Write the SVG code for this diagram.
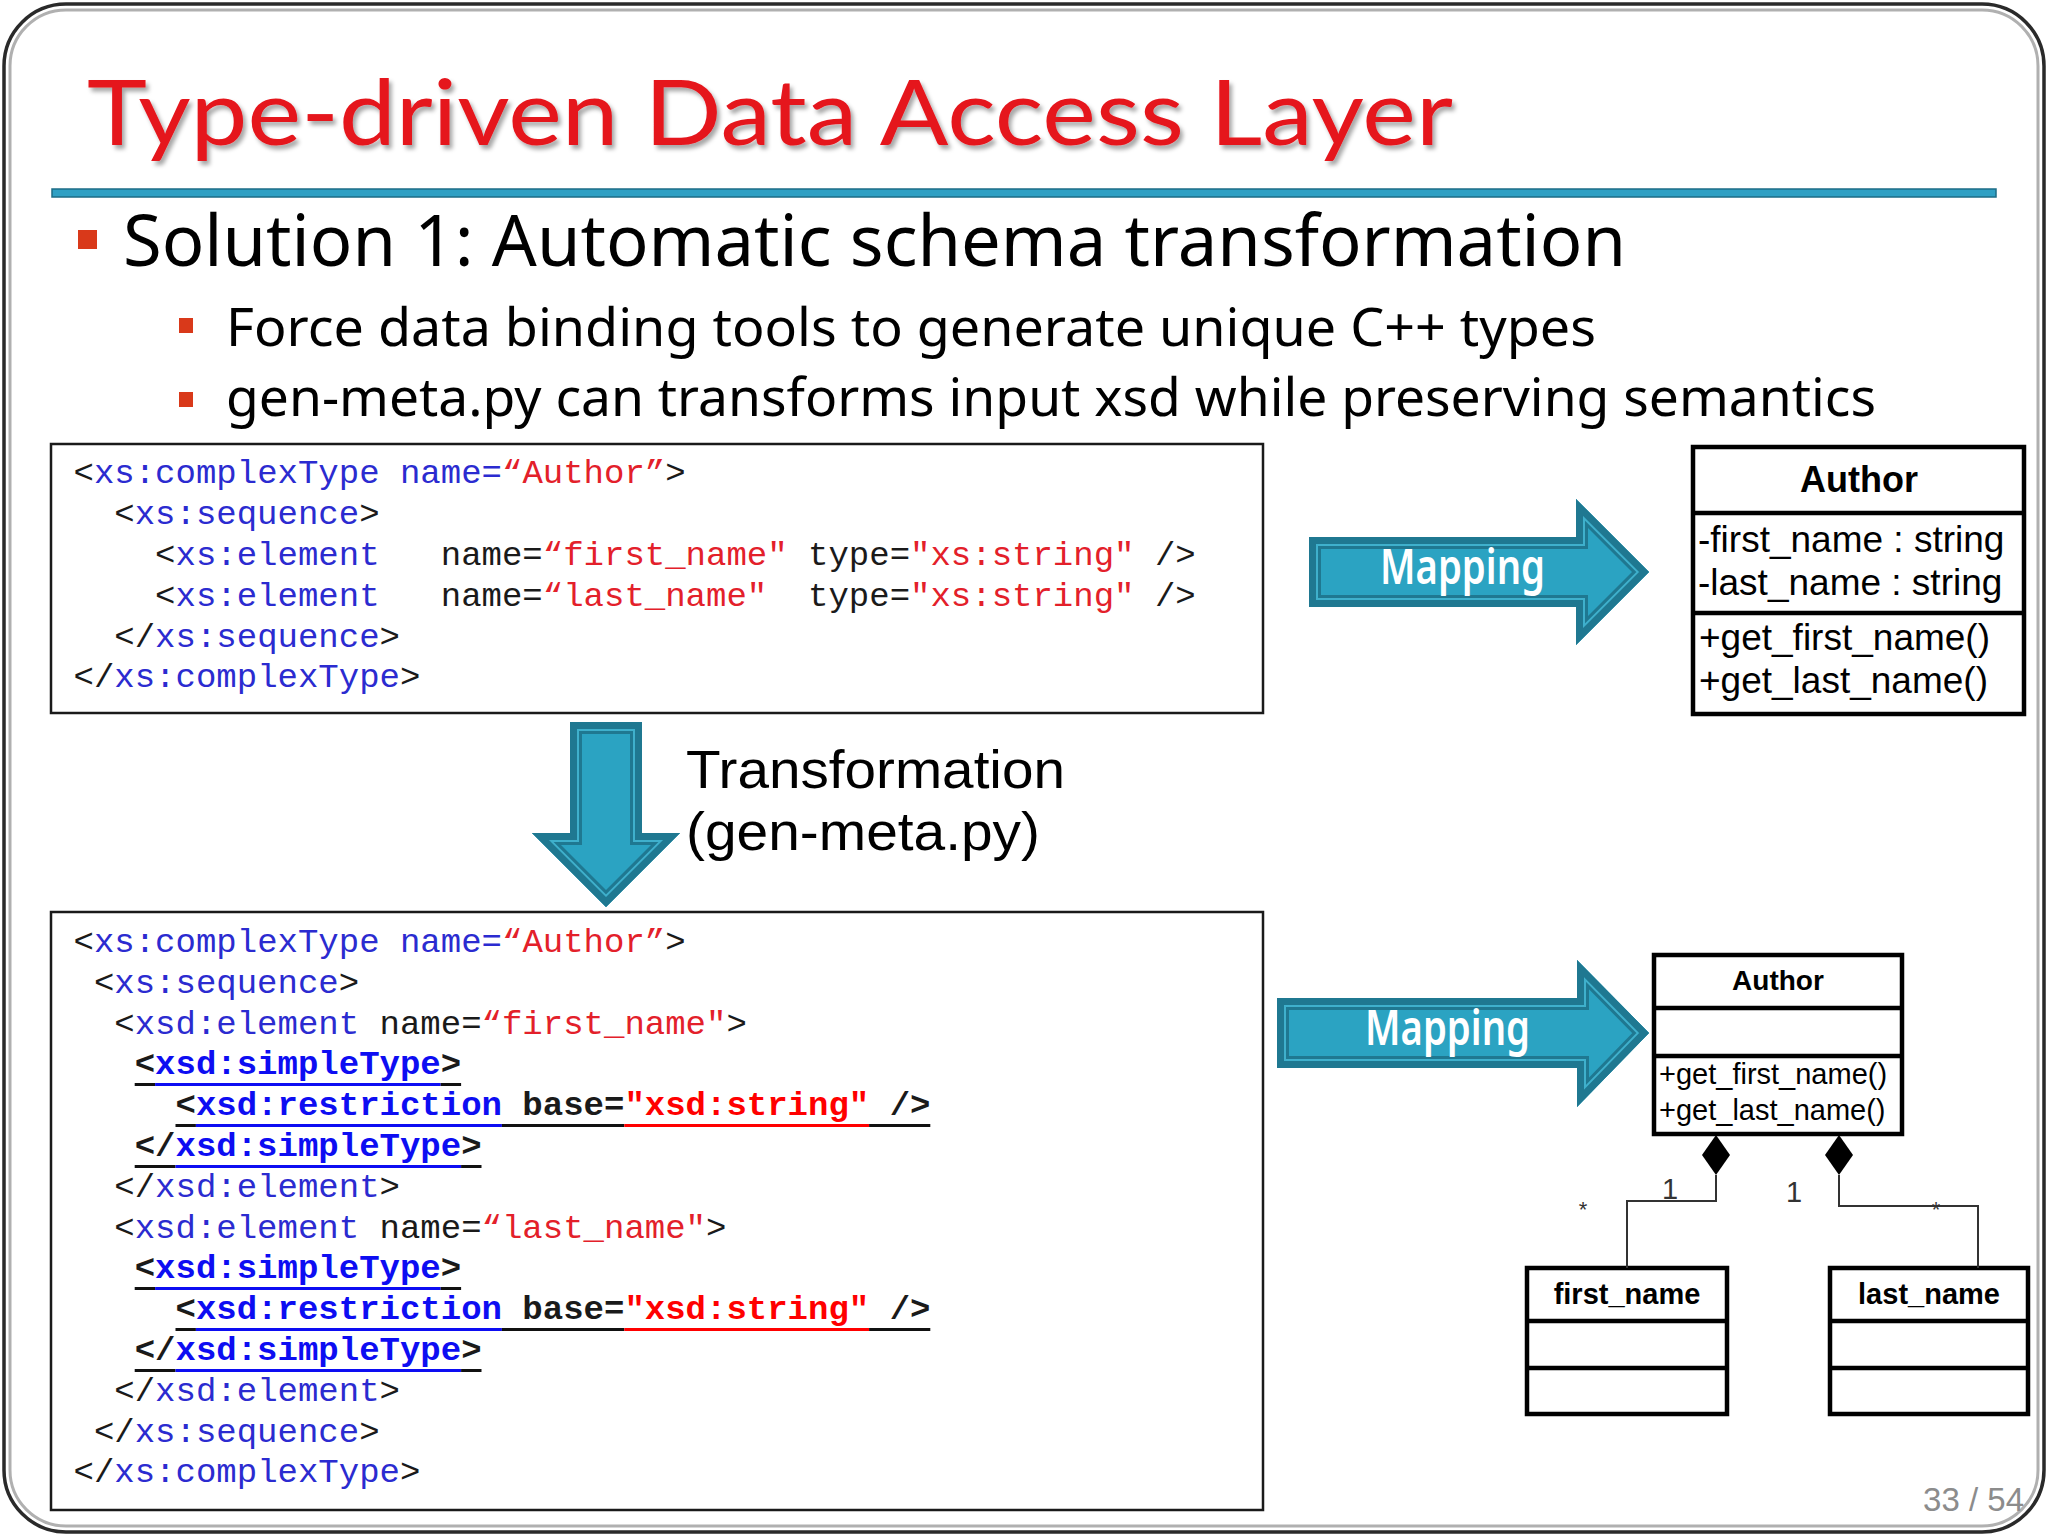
<svg xmlns="http://www.w3.org/2000/svg" width="2048" height="1536" viewBox="0 0 2048 1536">
<style>
.title{font-family:Lato,"Open Sans",sans-serif;font-size:92px;font-weight:400;fill:#e5141c}
.b1{font-family:"Noto Sans","Open Sans",sans-serif;font-size:72px;fill:#000}
.b2{font-family:"Noto Sans","Open Sans",sans-serif;font-size:53px;fill:#000}
.tr{font-family:"Liberation Sans",Arial,sans-serif;font-size:53px;fill:#000}
.bul{fill:#d9391a}
.box{fill:#fff;stroke:#1a1a1a;stroke-width:2.5}
.code{font-family:"Liberation Mono","Courier New",monospace;font-size:34px;fill:#1a1a1a}
.bold{font-weight:bold}
.k{fill:#2b2bd0}
.s{fill:#e3202a}
.kb{fill:#0d0df2}
.sb{fill:#ff0000}
.map{font-family:"Noto Sans","Open Sans",sans-serif;font-size:48px;fill:#fff;font-weight:600}
.umlbox{fill:#fff;stroke:#000;stroke-width:4.5}
.umlline{stroke:#000;stroke-width:4.5}
.uml{font-family:"Liberation Sans",Arial,sans-serif;fill:#000}
.conn{fill:none;stroke:#333;stroke-width:2}
.lbl{font-family:"Liberation Sans",Arial,sans-serif;fill:#333}
.ulk{fill:#111}
.ulb{fill:#0d0df2}
.ulr{fill:#ff0000}
</style>
<defs>
<filter id="tshadow" x="-5%" y="-20%" width="110%" height="150%">
<feDropShadow dx="3" dy="4" stdDeviation="2" flood-color="#000" flood-opacity="0.35"/>
</filter>
<polygon id="a1" points="1309,537 1576,537 1576,499 1649,572 1576,645 1576,607 1309,607"/>
<polygon id="a2" points="1277,998 1577,998 1577,960 1649,1033 1577,1107 1577,1068 1277,1068"/>
<polygon id="a3" points="570,722 642,722 642,833 680,833 606,907 532,833 570,833"/>
<clipPath id="c1"><use href="#a1"/></clipPath>
<clipPath id="c2"><use href="#a2"/></clipPath>
<clipPath id="c3"><use href="#a3"/></clipPath>
</defs>
<rect width="2048" height="1536" fill="#fff"/>
<g id="frame">
<rect x="4" y="4" width="2040" height="1528" rx="62" fill="none" stroke="#2a2a2a" stroke-width="3.5"/>
<rect x="10" y="10" width="2028" height="1516" rx="56" fill="none" stroke="#b0b0b0" stroke-width="3"/>
</g>
<g id="title">
<text class="title" x="87" y="145" textLength="1366" lengthAdjust="spacingAndGlyphs" filter="url(#tshadow)">Type-driven Data Access Layer</text>
<rect x="52" y="189" width="1944" height="8" fill="#2fa0c4" stroke="#1d6c86" stroke-width="1.5"/>
</g>
<g id="bullets">
<rect class="bul" x="78" y="230" width="19" height="19"/>
<text class="b1" x="123" y="266" textLength="1503" lengthAdjust="spacingAndGlyphs">Solution 1: Automatic schema transformation</text>
<rect class="bul" x="179" y="318" width="14" height="15"/>
<text class="b2" x="226" y="346" textLength="1370" lengthAdjust="spacingAndGlyphs">Force data binding tools to generate unique C++ types</text>
<rect class="bul" x="179" y="392" width="14" height="15"/>
<text class="b2" x="226" y="416" textLength="1650" lengthAdjust="spacingAndGlyphs">gen-meta.py can transforms input xsd while preserving semantics</text>
</g>
<g id="code-box-1">
<rect class="box" x="51" y="444" width="1212" height="269"/>
<text class="code" xml:space="preserve" x="73.5" y="483">&lt;<tspan class="k">xs:complexType name=</tspan><tspan class="s">“Author”</tspan>&gt;</text>
<text class="code" xml:space="preserve" x="114.3" y="524">&lt;<tspan class="k">xs:sequence</tspan>&gt;</text>
<text class="code" xml:space="preserve" x="155.1" y="565">&lt;<tspan class="k">xs:element</tspan>   name=<tspan class="s">“first_name"</tspan> type=<tspan class="s">"xs:string"</tspan> /&gt;</text>
<text class="code" xml:space="preserve" x="155.1" y="606">&lt;<tspan class="k">xs:element</tspan>   name=<tspan class="s">“last_name"</tspan>  type=<tspan class="s">"xs:string"</tspan> /&gt;</text>
<text class="code" xml:space="preserve" x="114.3" y="647">&lt;/<tspan class="k">xs:sequence</tspan>&gt;</text>
<text class="code" xml:space="preserve" x="73.5" y="687">&lt;/<tspan class="k">xs:complexType</tspan>&gt;</text>
</g>
<g id="code-box-2">
<rect class="box" x="51" y="912" width="1212" height="598"/>
<text class="code" xml:space="preserve" x="73.5" y="952">&lt;<tspan class="k">xs:complexType name=</tspan><tspan class="s">“Author”</tspan>&gt;</text>
<text class="code" xml:space="preserve" x="93.9" y="992.8">&lt;<tspan class="k">xs:sequence</tspan>&gt;</text>
<text class="code" xml:space="preserve" x="114.3" y="1033.6">&lt;<tspan class="k">xsd:element</tspan> name=<tspan class="s">“first_name"</tspan>&gt;</text>
<text class="code bold" xml:space="preserve" x="134.7" y="1074.4">&lt;<tspan class="kb">xsd:simpleType</tspan>&gt;</text>
<text class="code bold" xml:space="preserve" x="175.5" y="1115.2">&lt;<tspan class="kb">xsd:restriction</tspan> base=<tspan class="sb">"xsd:string"</tspan> /&gt;</text>
<text class="code bold" xml:space="preserve" x="134.7" y="1156">&lt;/<tspan class="kb">xsd:simpleType</tspan>&gt;</text>
<text class="code" xml:space="preserve" x="114.3" y="1196.8">&lt;/<tspan class="k">xsd:element</tspan>&gt;</text>
<text class="code" xml:space="preserve" x="114.3" y="1237.6">&lt;<tspan class="k">xsd:element</tspan> name=<tspan class="s">“last_name"</tspan>&gt;</text>
<text class="code bold" xml:space="preserve" x="134.7" y="1278.4">&lt;<tspan class="kb">xsd:simpleType</tspan>&gt;</text>
<text class="code bold" xml:space="preserve" x="175.5" y="1319.2">&lt;<tspan class="kb">xsd:restriction</tspan> base=<tspan class="sb">"xsd:string"</tspan> /&gt;</text>
<text class="code bold" xml:space="preserve" x="134.7" y="1360">&lt;/<tspan class="kb">xsd:simpleType</tspan>&gt;</text>
<text class="code" xml:space="preserve" x="114.3" y="1400.8">&lt;/<tspan class="k">xsd:element</tspan>&gt;</text>
<text class="code" xml:space="preserve" x="93.9" y="1441.6">&lt;/<tspan class="k">xs:sequence</tspan>&gt;</text>
<text class="code" xml:space="preserve" x="73.5" y="1482.4">&lt;/<tspan class="k">xs:complexType</tspan>&gt;</text>
<g id="underlines">
<rect class="ulk" x="134.7" y="1083" width="20.4" height="3"/><rect class="ulb" x="155.1" y="1083" width="285.6" height="3"/><rect class="ulk" x="440.7" y="1083" width="20.4" height="3"/>
<rect class="ulk" x="175.5" y="1124" width="20.4" height="3"/><rect class="ulb" x="195.9" y="1124" width="306" height="3"/><rect class="ulk" x="501.9" y="1124" width="122.4" height="3"/><rect class="ulr" x="624.3" y="1124" width="244.8" height="3"/><rect class="ulk" x="869.1" y="1124" width="61.2" height="3"/>
<rect class="ulk" x="134.7" y="1165" width="40.8" height="3"/><rect class="ulb" x="175.5" y="1165" width="285.6" height="3"/><rect class="ulk" x="461.1" y="1165" width="20.4" height="3"/>
<rect class="ulk" x="134.7" y="1287" width="20.4" height="3"/><rect class="ulb" x="155.1" y="1287" width="285.6" height="3"/><rect class="ulk" x="440.7" y="1287" width="20.4" height="3"/>
<rect class="ulk" x="175.5" y="1328" width="20.4" height="3"/><rect class="ulb" x="195.9" y="1328" width="306" height="3"/><rect class="ulk" x="501.9" y="1328" width="122.4" height="3"/><rect class="ulr" x="624.3" y="1328" width="244.8" height="3"/><rect class="ulk" x="869.1" y="1328" width="61.2" height="3"/>
<rect class="ulk" x="134.7" y="1369" width="40.8" height="3"/><rect class="ulb" x="175.5" y="1369" width="285.6" height="3"/><rect class="ulk" x="461.1" y="1369" width="20.4" height="3"/>
</g>
</g>
<g id="arrow-transformation">
<g clip-path="url(#c3)">
<use href="#a3" fill="#2ba3c2"/>
<use href="#a3" fill="none" stroke="#1f7891" stroke-width="24"/>
<use href="#a3" fill="none" stroke="#3fb0cc" stroke-width="18"/>
<use href="#a3" fill="none" stroke="#1f7891" stroke-width="14"/>
</g>
<text class="tr" x="686" y="788" textLength="379" lengthAdjust="spacingAndGlyphs">Transformation</text>
<text class="tr" x="686" y="850" textLength="354" lengthAdjust="spacingAndGlyphs">(gen-meta.py)</text>
</g>
<g id="mapping-1">
<g clip-path="url(#c1)">
<use href="#a1" fill="#2ba3c2"/>
<use href="#a1" fill="none" stroke="#1f7891" stroke-width="24"/>
<use href="#a1" fill="none" stroke="#3fb0cc" stroke-width="18"/>
<use href="#a1" fill="none" stroke="#1f7891" stroke-width="14"/>
</g>
<text class="map" x="1380" y="584" textLength="165" lengthAdjust="spacingAndGlyphs">Mapping</text>
</g>
<g id="mapping-2">
<g clip-path="url(#c2)">
<use href="#a2" fill="#2ba3c2"/>
<use href="#a2" fill="none" stroke="#1f7891" stroke-width="24"/>
<use href="#a2" fill="none" stroke="#3fb0cc" stroke-width="18"/>
<use href="#a2" fill="none" stroke="#1f7891" stroke-width="14"/>
</g>
<text class="map" x="1365" y="1045" textLength="165" lengthAdjust="spacingAndGlyphs">Mapping</text>
</g>
<g id="uml-author-1">
<rect class="umlbox" x="1693" y="447" width="331" height="267"/>
<line class="umlline" x1="1693" y1="513" x2="2024" y2="513"/>
<line class="umlline" x1="1693" y1="613" x2="2024" y2="613"/>
<text class="uml" x="1859" y="492" font-size="36" font-weight="bold" text-anchor="middle">Author</text>
<text class="uml" x="1698" y="552" font-size="37">-first_name : string</text>
<text class="uml" x="1698" y="595" font-size="37">-last_name : string</text>
<text class="uml" x="1699" y="650" font-size="37">+get_first_name()</text>
<text class="uml" x="1699" y="693" font-size="37">+get_last_name()</text>
</g>
<g id="uml-author-2">
<rect class="umlbox" x="1654" y="955" width="248" height="179" stroke-width="4"/>
<line class="umlline" x1="1654" y1="1008" x2="1902" y2="1008" stroke-width="4"/>
<line class="umlline" x1="1654" y1="1056" x2="1902" y2="1056" stroke-width="4"/>
<text class="uml" x="1778" y="990" font-size="28" font-weight="bold" text-anchor="middle">Author</text>
<text class="uml" x="1659" y="1084" font-size="29">+get_first_name()</text>
<text class="uml" x="1659" y="1120" font-size="29">+get_last_name()</text>
</g>
<g id="uml-first-name">
<rect class="umlbox" x="1527" y="1268" width="200" height="146" stroke-width="4"/>
<line class="umlline" x1="1527" y1="1321" x2="1727" y2="1321" stroke-width="4"/>
<line class="umlline" x1="1527" y1="1368" x2="1727" y2="1368" stroke-width="4"/>
<text class="uml" x="1627" y="1304" font-size="29" font-weight="bold" text-anchor="middle">first_name</text>
</g>
<g id="uml-last-name">
<rect class="umlbox" x="1830" y="1268" width="198" height="146" stroke-width="4"/>
<line class="umlline" x1="1830" y1="1321" x2="2028" y2="1321" stroke-width="4"/>
<line class="umlline" x1="1830" y1="1368" x2="2028" y2="1368" stroke-width="4"/>
<text class="uml" x="1929" y="1304" font-size="29" font-weight="bold" text-anchor="middle">last_name</text>
</g>
<g id="connectors">
<polyline class="conn" points="1716,1175 1716,1201 1627,1201 1627,1268"/>
<polyline class="conn" points="1839,1175 1839,1206 1978,1206 1978,1268"/>
<polygon points="1716,1135 1730,1155 1716,1175 1702,1155" fill="#000"/>
<polygon points="1839,1135 1853,1155 1839,1175 1825,1155" fill="#000"/>
<text class="lbl" x="1670" y="1199" font-size="29" text-anchor="middle">1</text>
<text class="lbl" x="1583" y="1217" font-size="22" text-anchor="middle">*</text>
<text class="lbl" x="1794" y="1202" font-size="29" text-anchor="middle">1</text>
<text class="lbl" x="1936" y="1217" font-size="22" text-anchor="middle">*</text>
</g>
<text id="page-number" x="2024" y="1511" font-family="Liberation Sans, Arial, sans-serif" font-size="33" fill="#8c8c8c" text-anchor="end">33 / 54</text>
</svg>
